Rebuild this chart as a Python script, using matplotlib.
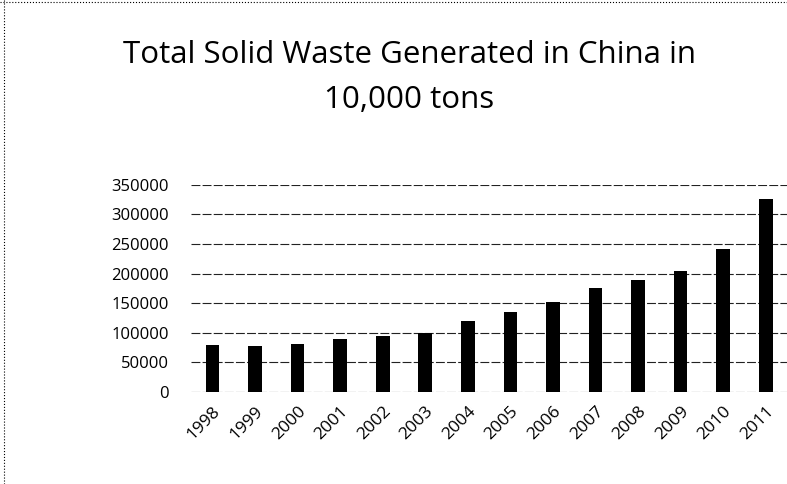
import matplotlib
matplotlib.use("Agg")
import matplotlib.pyplot as plt
from matplotlib.lines import Line2D

years = ["1998", "1999", "2000", "2001", "2002", "2003", "2004",
         "2005", "2006", "2007", "2008", "2009", "2010", "2011"]
waste = [80068, 78442, 81608, 88840, 94509, 100428, 120030,
         134449, 151541, 175632, 190127, 203943, 240944, 326204]
yticks = [0, 50000, 100000, 150000, 200000, 250000, 300000, 350000]

plt.rcParams["font.family"] = ["Open Sans", "DejaVu Sans"]

fig = plt.figure(figsize=(7.87, 4.84), dpi=100)
ax = fig.add_axes([0.243, 0.19, 0.757, 0.428])

x = range(len(years))
ax.bar(x, waste, width=0.32, color="black", zorder=3)
ax.set_xlim(-0.5, len(years) - 0.5)
ax.set_ylim(0, 350000)
ax.set_yticks(yticks)
ax.set_yticklabels([str(v) for v in yticks], fontsize=12)
ax.set_xticks(list(x))
ax.set_xticklabels(years, rotation=45, ha="right", va="top",
                   rotation_mode="anchor", fontsize=12.5)
ax.tick_params(axis="y", length=0, pad=16)
ax.tick_params(axis="x", length=0, pad=8)
ax.grid(axis="y", color="#222222", linewidth=0.8, linestyle=(0, (8, 2)), zorder=0)
for s in ax.spines.values():
    s.set_visible(False)

fig.text(0.52, 0.886, "Total Solid Waste Generated in China in",
         ha="center", va="center", fontsize=22.5)
fig.text(0.52, 0.793, "10,000 tons", ha="center", va="center", fontsize=22.5)

# dotted border of the scanned chart box
fig.add_artist(Line2D([0.005, 0.005], [0, 1], transform=fig.transFigure,
                      color="black", linewidth=0.8, linestyle=":"))
fig.add_artist(Line2D([0, 1], [0.996, 0.996], transform=fig.transFigure,
                      color="black", linewidth=0.8, linestyle=":"))

fig.savefig("out.png", dpi=100)
